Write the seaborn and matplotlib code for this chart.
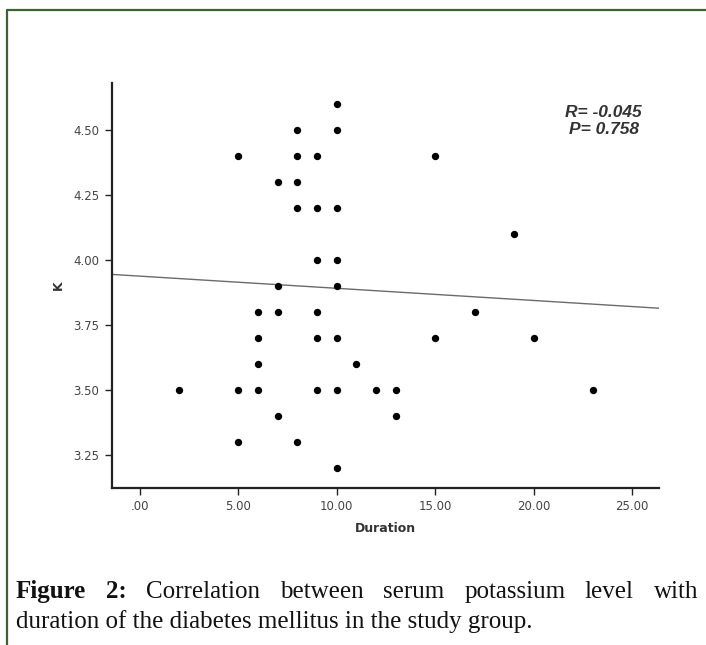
import numpy as np
import pandas as pd
import matplotlib
matplotlib.use("Agg")
import matplotlib.pyplot as plt
import seaborn as sns
from matplotlib.lines import Line2D

# Data (duration in years, serum potassium K)
duration = [2, 5, 5, 5, 6, 6, 6, 6, 7, 7, 7, 7, 8, 8, 8, 8, 8,
            9, 9, 9, 9, 9, 9, 10, 10, 10, 10, 10, 10, 10, 10,
            11, 12, 13, 13, 15, 15, 17, 19, 20, 23]
potassium = [3.5, 4.4, 3.5, 3.3, 3.8, 3.7, 3.6, 3.5, 4.3, 3.9, 3.8, 3.4,
             4.5, 4.4, 4.3, 4.2, 3.3,
             4.4, 4.2, 4.0, 3.8, 3.7, 3.5,
             4.6, 4.5, 4.2, 4.0, 3.9, 3.7, 3.5, 3.2,
             3.6, 3.5, 3.5, 3.4, 4.4, 3.7, 3.8, 4.1, 3.7, 3.5]
# fit line as printed in the figure (dots overlap, so refit would differ)
fit_intercept = 3.938
fit_slope = -0.00468
x_ticks = [0, 5, 10, 15, 20, 25]
x_tick_labels = [".00", "5.00", "10.00", "15.00", "20.00", "25.00"]
y_ticks = [3.25, 3.50, 3.75, 4.00, 4.25, 4.50]
y_tick_labels = ["3.25", "3.50", "3.75", "4.00", "4.25", "4.50"]
stats_text = "R= -0.045\nP= 0.758"
caption_line1 = ["Figure", "2:", "Correlation", "between", "serum",
                 "potassium", "level", "with"]
caption_line2 = "duration of the diabetes mellitus in the study group."

df = pd.DataFrame({"Duration": duration, "K": potassium})

sns.set_theme(style="ticks")
plt.rcParams["font.family"] = ["DejaVu Sans"]

W, H = 706, 645
fig = plt.figure(figsize=(W / 100, H / 100), dpi=100)
ax = fig.add_axes([112 / W, 1 - 488 / H, 547 / W, 405 / H])

sns.scatterplot(data=df, x="Duration", y="K", ax=ax, s=28, color="black",
                linewidth=0, zorder=3)
ax.axline((0, fit_intercept), slope=fit_slope, color="#6a6a6a", lw=1.0, zorder=2)
ax.set_xlim(-1.42, 26.37)
ax.set_ylim(3.123, 4.681)

ax.set_xticks(x_ticks)
ax.set_xticklabels(x_tick_labels)
ax.set_yticks(y_ticks)
ax.set_yticklabels(y_tick_labels)
ax.tick_params(axis="both", length=5, width=1, color="#222222",
               labelsize=8.5, labelcolor="#444444", pad=4)

sns.despine(ax=ax)
for side in ["left", "bottom"]:
    ax.spines[side].set_linewidth(1.6)
    ax.spines[side].set_color("#222222")

ax.set_xlabel("Duration", fontsize=9, fontweight="bold", color="#333333", labelpad=6)
ax.set_ylabel("K", fontsize=9, fontweight="bold", color="#333333", labelpad=6)

ax.text(0.899, 0.906, stats_text, transform=ax.transAxes, ha="center", va="center",
        family="Liberation Sans", fontsize=12.5, fontweight="bold", style="italic",
        color="#333333", linespacing=1.1)

# green frame (top and left edges only are inside the crop)
green = "#3d6332"
fig.add_artist(Line2D([7 / W, 1.0], [1 - 10 / H, 1 - 10 / H], transform=fig.transFigure,
                      color=green, lw=1.6))
fig.add_artist(Line2D([7 / W, 7 / W], [0.0, 1 - 10 / H], transform=fig.transFigure,
                      color=green, lw=1.6))

# caption, first line justified between x=16 and x=698
cap_font = dict(family="Liberation Serif", fontsize=18, color="#111111",
                va="baseline", ha="left")
fig.canvas.draw()
renderer = fig.canvas.get_renderer()
word_texts = []
for i, word in enumerate(caption_line1):
    t = fig.text(0, 1 - 598 / H, word, fontweight="bold" if i < 2 else "normal",
                 **cap_font)
    word_texts.append(t)
widths = [t.get_window_extent(renderer).width for t in word_texts]
gap = (698 - 16 - sum(widths)) / (len(widths) - 1)
x = 16
for t, w in zip(word_texts, widths):
    t.set_x(x / W)
    x += w + gap

fig.text(16 / W, 1 - 628 / H, caption_line2, **cap_font)

fig.savefig("out.png", dpi=100, facecolor="white")
